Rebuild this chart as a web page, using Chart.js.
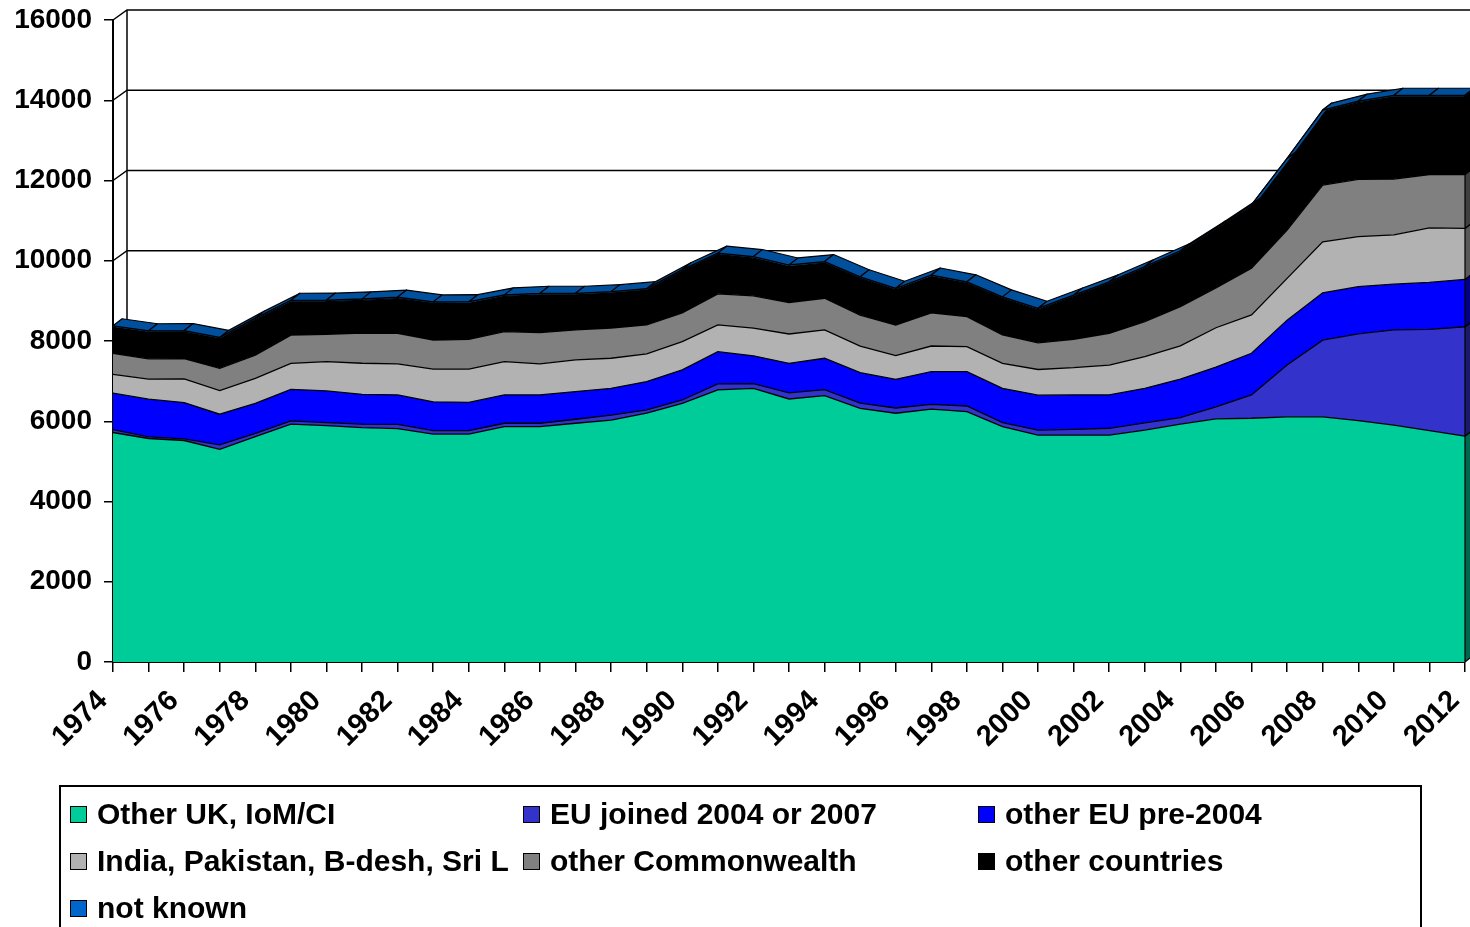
<!DOCTYPE html>
<html>
<head>
<meta charset="utf-8">
<script src="https://cdn.jsdelivr.net/npm/chart.js@4/dist/chart.umd.min.js"></script>
<style>
  html, body { margin: 0; padding: 0; background: #fff; overflow: hidden; }
  #wrap { position: relative; width: 1470px; height: 927px; }
  #legend {
    position: absolute; left: 59px; top: 785px; width: 1363px; height: 200px;
    border: 2px solid #000; box-sizing: border-box;
    font-family: "Liberation Sans", Arial, sans-serif; font-weight: bold; font-size: 30px; color: #000;
  }
  .item { position: absolute; display: flex; align-items: center; height: 34px; white-space: nowrap; }
  .box { width: 15px; height: 15px; border: 1.5px solid #000; margin-right: 10px; }
</style>
</head>
<body>
<div id="wrap">
  <canvas id="chart" width="1470" height="927"></canvas>
  <div id="legend"></div>
</div>
<script>
// years along the floor
const years = ['1974','1975','1976','1977','1978','1979','1980','1981','1982','1983',
  '1984','1985','1986','1987','1988','1989','1990','1991','1992','1993',
  '1994','1995','1996','1997','1998','1999','2000','2001','2002','2003',
  '2004','2005','2006','2007','2008','2009','2010','2011','2012'];

// series, bottom to top of the stack
const otherUK = [5720,5570,5520,5300,5615,5930,5890,5840,5815,5680,
  5680,5865,5865,5950,6030,6200,6445,6780,6820,6555,
  6640,6320,6200,6300,6240,5865,5655,5655,5655,5780,
  5930,6060,6075,6110,6110,6015,5905,5765,5630];
const euJoined = [70,40,40,110,85,80,75,90,105,85,
  85,85,85,100,125,85,85,150,120,150,
  150,130,130,120,140,100,125,145,170,180,
  160,300,580,1290,1910,2160,2370,2525,2725];
const euPre2004 = [910,940,905,765,745,785,790,740,735,720,
  705,705,705,690,665,705,750,805,690,740,
  780,760,715,815,855,855,870,855,830,860,
  960,990,1040,1120,1180,1180,1140,1170,1180];
const indiaEtc = [470,500,590,590,625,645,730,775,775,815,
  830,830,775,790,750,690,705,665,690,730,
  705,665,590,640,625,625,640,680,745,790,
  830,980,955,1040,1270,1245,1230,1360,1270];
const otherCommonwealth = [520,505,505,555,580,705,680,750,760,720,
  740,750,780,745,750,725,715,775,805,780,
  790,770,765,825,745,705,665,705,790,875,
  975,990,1165,1205,1415,1430,1390,1330,1345];
const otherCountries = [650,660,660,730,880,830,815,815,865,915,
  900,875,940,875,870,860,1040,975,940,900,
  875,915,875,905,830,910,820,1065,1245,1330,
  1355,1450,1540,1745,1830,1910,2050,1935,1935];
const notKnown = [40,40,40,40,40,40,40,40,40,40,
  40,40,40,40,40,40,40,40,40,40,
  40,40,40,40,40,40,40,40,40,40,
  40,40,40,40,40,40,40,40,40];

const yTicks = [0,2000,4000,6000,8000,10000,12000,14000,16000];

const series = [
  { label: 'Other UK, IoM/CI', data: otherUK, color: '#00CC99', side: '#006650' },
  { label: 'EU joined 2004 or 2007', data: euJoined, color: '#3333CC', side: '#1A1A66' },
  { label: 'other EU pre-2004', data: euPre2004, color: '#0000FF', side: '#000080' },
  { label: 'India, Pakistan, B-desh, Sri L', data: indiaEtc, color: '#B2B2B2', side: '#595959' },
  { label: 'other Commonwealth', data: otherCommonwealth, color: '#808080', side: '#404040' },
  { label: 'other countries', data: otherCountries, color: '#000000', side: '#000000' },
  { label: 'not known', data: notKnown, color: '#0066CC', side: '#003366' }
];

const FONT = '"Liberation Sans", Arial, sans-serif';
const WALL = { dx: 14, dy: -10 };   // back wall offset
const TOP = { dx: 9, dy: -7 };      // depth of the area top face

// fake 3d bits: back wall, top face, right side face
const threeD = {
  id: 'threeD',
  beforeDatasetsDraw(chart) {
    const ctx = chart.ctx;
    const { left, top, bottom } = chart.chartArea;
    const y = chart.scales.y;
    ctx.save();
    ctx.strokeStyle = '#000';
    ctx.lineWidth = 1.5;
    yTicks.forEach(v => {
      const py = y.getPixelForValue(v);
      ctx.beginPath();
      ctx.moveTo(left, py);
      ctx.lineTo(left + WALL.dx, py + WALL.dy);
      ctx.lineTo(chart.width, py + WALL.dy);
      ctx.stroke();
    });
    ctx.beginPath();
    ctx.moveTo(left + WALL.dx, top + WALL.dy);
    ctx.lineTo(left + WALL.dx, bottom + WALL.dy);
    ctx.stroke();
    ctx.restore();
  },
  afterDatasetsDraw(chart) {
    const ctx = chart.ctx;
    const y = chart.scales.y;
    const metas = series.map((s, i) => chart.getDatasetMeta(i));
    ctx.save();
    ctx.strokeStyle = '#000';
    ctx.lineWidth = 1.2;
    ctx.lineJoin = 'round';

    // top face along the top of the stack
    const pts = metas[metas.length - 1].data;
    for (let i = 0; i < pts.length - 1; i++) {
      const a = pts[i], b = pts[i + 1];
      ctx.beginPath();
      ctx.moveTo(a.x, a.y);
      ctx.lineTo(b.x, b.y);
      ctx.lineTo(b.x + TOP.dx, b.y + TOP.dy);
      ctx.lineTo(a.x + TOP.dx, a.y + TOP.dy);
      ctx.closePath();
      ctx.fillStyle = '#00509E';
      ctx.fill();
      ctx.stroke();
    }

    // right side face at the last year
    const n = years.length - 1;
    metas.forEach((m, k) => {
      const p = m.data[n];
      const yBot = k === 0 ? y.getPixelForValue(0) : metas[k - 1].data[n].y;
      ctx.beginPath();
      ctx.moveTo(p.x, yBot);
      ctx.lineTo(p.x, p.y);
      ctx.lineTo(p.x + TOP.dx, p.y + TOP.dy);
      ctx.lineTo(p.x + TOP.dx, yBot + TOP.dy);
      ctx.closePath();
      ctx.fillStyle = series[k].side;
      ctx.fill();
      ctx.stroke();
    });
    ctx.restore();
  }
};

new Chart(document.getElementById('chart'), {
  type: 'line',
  data: {
    labels: years,
    datasets: series.map((s, i) => ({
      label: s.label,
      data: s.data,
      backgroundColor: s.color,
      borderColor: '#000',
      borderWidth: 1.3,
      pointRadius: 0,
      tension: 0,
      fill: i === 0 ? 'origin' : '-1'
    }))
  },
  options: {
    responsive: false,
    animation: false,
    layout: { padding: { top: 20, right: 5, left: 0, bottom: 0 } },
    plugins: { legend: { display: false }, tooltip: { enabled: false } },
    scales: {
      x: {
        offset: false,
        grid: { drawOnChartArea: false, drawTicks: true, tickLength: 10, color: '#000', lineWidth: 1.5 },
        border: { color: '#000', width: 2 },
        ticks: {
          autoSkip: false,
          maxRotation: 45,
          minRotation: 45,
          padding: 12,
          labelOffset: -10,
          color: '#000',
          font: { family: FONT, size: 29, weight: 'bold' },
          callback: (v, i) => (i % 2 === 0 ? years[i] : '')
        },
        afterFit: s => { s.height = 265; s.paddingLeft = 0; s.paddingRight = 0; }
      },
      y: {
        stacked: true,
        min: 0,
        max: 16000,
        grid: { drawOnChartArea: false, drawTicks: true, tickLength: 9, color: '#000', lineWidth: 1.5 },
        border: { color: '#000', width: 2 },
        ticks: {
          stepSize: 2000,
          padding: 12,
          color: '#000',
          font: { family: FONT, size: 28, weight: 'bold' },
          callback: v => String(v)
        },
        afterFit: s => { s.width = 113; s.paddingTop = 0; s.paddingBottom = 0; }
      }
    }
  },
  plugins: [threeD]
});

// legend below the chart, three columns like the original
const legend = document.getElementById('legend');
const colX = [9, 462, 917];
const rowY = [10, 57, 104];
series.forEach((s, i) => {
  const el = document.createElement('div');
  el.className = 'item';
  el.style.left = colX[i % 3] + 'px';
  el.style.top = rowY[Math.floor(i / 3)] + 'px';
  el.innerHTML = '<span class="box" style="background:' + s.color + '"></span>' + s.label;
  legend.appendChild(el);
});
</script>
</body>
</html>
